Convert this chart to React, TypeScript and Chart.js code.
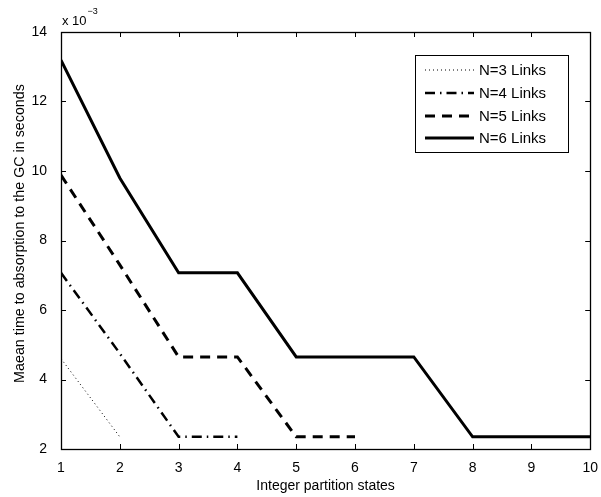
import { useEffect, useRef } from "react";
import { Chart, registerables } from "chart.js";

Chart.register(...registerables);

// ---- data (values in units of 10^-3 s) ----
const states = [1, 2, 3, 4, 5, 6, 7, 8, 9, 10];
const seriesLabels = ["N=3 Links", "N=4 Links", "N=5 Links", "N=6 Links"];
const n3Values = [4.6, 2.35];
const n4Values = [7.07, 4.75, 2.35, 2.35];
const n5Values = [9.88, 7.3, 4.65, 4.65, 2.35, 2.35];
const n6Values = [13.19, 9.8, 7.07, 7.07, 4.65, 4.65, 4.65, 2.35, 2.35, 2.35];
const yTickValues = [2, 4, 6, 8, 10, 12, 14];
const xTitle = "Integer partition states";
const yTitle = "Maean time to absorption to the GC in seconds";
const exponentBase = "x 10";
const exponentPower = "\u22123";

const FONT = "Arial, 'Liberation Sans', Helvetica, sans-serif";

const toPoints = (vals: number[]) => vals.map((v, i) => ({ x: states[i], y: v }));

const framePlugin = {
  id: "frame",
  afterDraw(chart: any) {
    const { ctx, chartArea } = chart;
    const { left, right, top, bottom } = chartArea;
    const xs = chart.scales.x;
    const ys = chart.scales.y;
    ctx.save();
    ctx.strokeStyle = "#000";
    ctx.lineWidth = 1;
    ctx.beginPath();
    const tl = 5;
    states.forEach((v) => {
      const px = Math.round(xs.getPixelForValue(v)) + 0.5;
      ctx.moveTo(px, bottom);
      ctx.lineTo(px, bottom - tl);
      ctx.moveTo(px, top);
      ctx.lineTo(px, top + tl);
    });
    yTickValues.forEach((v) => {
      const py = Math.round(ys.getPixelForValue(v)) + 0.5;
      ctx.moveTo(left, py);
      ctx.lineTo(left + tl, py);
      ctx.moveTo(right, py);
      ctx.lineTo(right - tl, py);
    });
    ctx.stroke();
    ctx.lineWidth = 1.3;
    ctx.strokeRect(Math.round(left) + 0.5, Math.round(top) + 0.5, Math.round(right - left), Math.round(bottom - top));

    // y axis title
    ctx.save();
    ctx.translate(20, (top + bottom) / 2 - 7);
    ctx.rotate(-Math.PI / 2);
    ctx.fillStyle = "#000";
    ctx.font = `14.3px ${FONT}`;
    ctx.textAlign = "center";
    ctx.textBaseline = "middle";
    ctx.fillText(yTitle, 0, 0);
    ctx.restore();

    // exponent label
    ctx.fillStyle = "#000";
    ctx.textBaseline = "alphabetic";
    ctx.textAlign = "left";
    ctx.font = `13px ${FONT}`;
    ctx.fillText(exponentBase, left + 1, 25);
    const w = ctx.measureText(exponentBase).width;
    ctx.font = `9px ${FONT}`;
    ctx.fillText(exponentPower, left + 1 + w + 1, 14);

    // legend
    const bx = 415.5, by = 55.5, bw = 153, bh = 97;
    ctx.fillStyle = "#fff";
    ctx.fillRect(bx, by, bw, bh);
    ctx.strokeStyle = "#000";
    ctx.lineWidth = 1;
    ctx.strokeRect(bx, by, bw, bh);
    const rows = [70, 93, 116, 138];
    chart.data.datasets.forEach((ds: any, i: number) => {
      const y = rows[i];
      ctx.save();
      ctx.strokeStyle = ds.borderColor;
      ctx.lineWidth = ds.borderWidth;
      ctx.lineCap = "butt";
      ctx.setLineDash(ds.borderDash || []);
      ctx.beginPath();
      ctx.moveTo(425, y);
      ctx.lineTo(474, y);
      ctx.stroke();
      ctx.restore();
      ctx.fillStyle = "#000";
      ctx.font = `15px ${FONT}`;
      ctx.textBaseline = "middle";
      ctx.textAlign = "left";
      ctx.fillText(ds.label, 479, y + 1);
    });
    ctx.restore();
  },
};

export default function App() {
  const ref = useRef<HTMLCanvasElement | null>(null);
  useEffect(() => {
    if (!ref.current) return;
    const chart = new Chart(ref.current, {
      type: "line",
      data: {
        datasets: [
          {
            label: seriesLabels[0],
            data: toPoints(n3Values),
            borderColor: "#000",
            borderWidth: 1,
            borderDash: [1, 3],
            pointRadius: 0,
            tension: 0,
          },
          {
            label: seriesLabels[1],
            data: toPoints(n4Values),
            borderColor: "#000",
            borderWidth: 2.5,
            borderDash: [10, 5, 1.5, 5],
            pointRadius: 0,
            tension: 0,
          },
          {
            label: seriesLabels[2],
            data: toPoints(n5Values),
            borderColor: "#000",
            borderWidth: 3,
            borderDash: [10, 7],
            pointRadius: 0,
            tension: 0,
          },
          {
            label: seriesLabels[3],
            data: toPoints(n6Values),
            borderColor: "#000",
            borderWidth: 3,
            pointRadius: 0,
            tension: 0,
          },
        ],
      },
      options: {
        animation: false,
        responsive: false,
        devicePixelRatio: 1,
        layout: { padding: { top: 32, right: 9, left: 0, bottom: 0 } },
        plugins: { legend: { display: false }, tooltip: { enabled: false } },
        scales: {
          x: {
            type: "linear",
            min: 1,
            max: 10,
            afterFit: (s: any) => {
              s.height = 48;
            },
            afterBuildTicks: (s: any) => {
              s.ticks = states.map((v) => ({ value: v }));
            },
            grid: { display: false },
            border: { display: false },
            ticks: { color: "#000", font: { family: FONT, size: 14 }, padding: 3, maxRotation: 0 },
            title: {
              display: true,
              text: xTitle,
              color: "#000",
              font: { family: FONT, size: 14 },
              padding: { top: 0, bottom: 2 },
            },
          },
          y: {
            type: "linear",
            min: 2,
            max: 14,
            afterFit: (s: any) => {
              s.width = 61;
            },
            afterBuildTicks: (s: any) => {
              s.ticks = yTickValues.map((v) => ({ value: v }));
            },
            grid: { display: false },
            border: { display: false },
            ticks: { color: "#000", font: { family: FONT, size: 14 }, padding: 6 },
            title: { display: false },
          },
        },
      },
      plugins: [framePlugin],
    } as any);
    return () => chart.destroy();
  }, []);
  return (
    <canvas
      ref={ref}
      width={601}
      height={497}
      style={{ position: "absolute", left: 0, top: 0, width: 601, height: 497, background: "#fff" }}
    />
  );
}
